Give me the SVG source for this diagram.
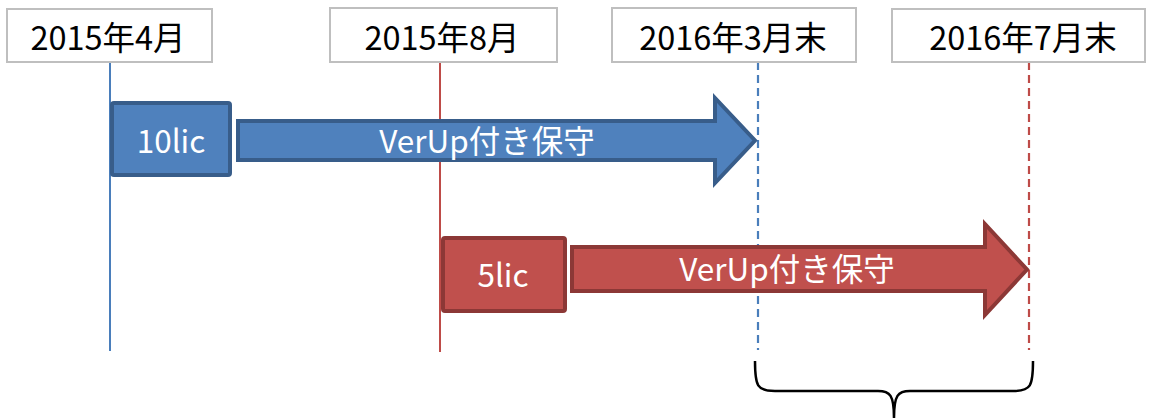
<svg xmlns="http://www.w3.org/2000/svg" width="1150" height="418" viewBox="0 0 1150 418">
<style>
.lbl{fill:#fff;stroke:#bfbfbf;stroke-width:2}
.lt{font-family:"Noto Sans CJK JP","Noto Sans",sans-serif;font-size:32.5px;fill:#000;text-anchor:middle}
.wt{font-family:"Noto Sans CJK JP","Noto Sans",sans-serif;font-size:31.5px;fill:#fff;text-anchor:middle}
.blue{fill:#4f81bd;stroke:#385d8a;stroke-width:4;stroke-linejoin:miter}
.red{fill:#c0504d;stroke:#8c3836;stroke-width:4;stroke-linejoin:miter}
</style>
<rect width="1150" height="418" fill="#fff"/>
<g id="connectors">
<line x1="110" y1="62" x2="110" y2="351" stroke="#4a7ebb" stroke-width="2"/>
<line x1="440" y1="62" x2="440" y2="352" stroke="#be4b48" stroke-width="2"/>
<line x1="758" y1="62" x2="758" y2="350" stroke="#4a7ebb" stroke-width="2.2" stroke-dasharray="8,5"/>
<line x1="1029" y1="62" x2="1029" y2="350" stroke="#be4b48" stroke-width="2.2" stroke-dasharray="8,5"/>
</g>
<g id="label-2015-4">
<rect class="lbl" x="7" y="9" width="205" height="53"/>
<text class="lt" x="108" y="50">2015年4月</text>
</g>
<g id="label-2015-8">
<rect class="lbl" x="330" y="8" width="227" height="54"/>
<text class="lt" x="442" y="50">2015年8月</text>
</g>
<g id="label-2016-3">
<rect class="lbl" x="612" y="8" width="244" height="54"/>
<text class="lt" x="733" y="50">2016年3月末</text>
</g>
<g id="label-2016-7">
<rect class="lbl" x="892" y="9" width="253" height="53"/>
<text class="lt" x="1023" y="50">2016年7月末</text>
</g>
<g id="box-10lic">
<rect class="blue" x="112" y="103" width="118" height="72" rx="2"/>
<text class="wt" x="171" y="153">10lic</text>
</g>
<g id="arrow-blue">
<polygon class="blue" points="238,121 715,121 715,98 755,140.5 715,183 715,160 238,160"/>
<text class="wt" x="487" y="153">VerUp付き保守</text>
</g>
<g id="box-5lic">
<rect class="red" x="443" y="238" width="122" height="73" rx="2"/>
<text class="wt" x="503" y="287">5lic</text>
</g>
<g id="arrow-red">
<polygon class="red" points="572,247 985,247 985,224 1027,269.5 985,315 985,291 572,291"/>
<text class="wt" x="787" y="281">VerUp付き保守</text>
</g>
<g id="brace">
<path d="M755,361 C755,386 757,391 775,391 L878,391 C890,391 894,395 894,418 M1033,361 C1033,386 1031,391 1013,391 L910,391 C898,391 894,395 894,418" fill="none" stroke="#000" stroke-width="2.5"/>
</g>
</svg>
